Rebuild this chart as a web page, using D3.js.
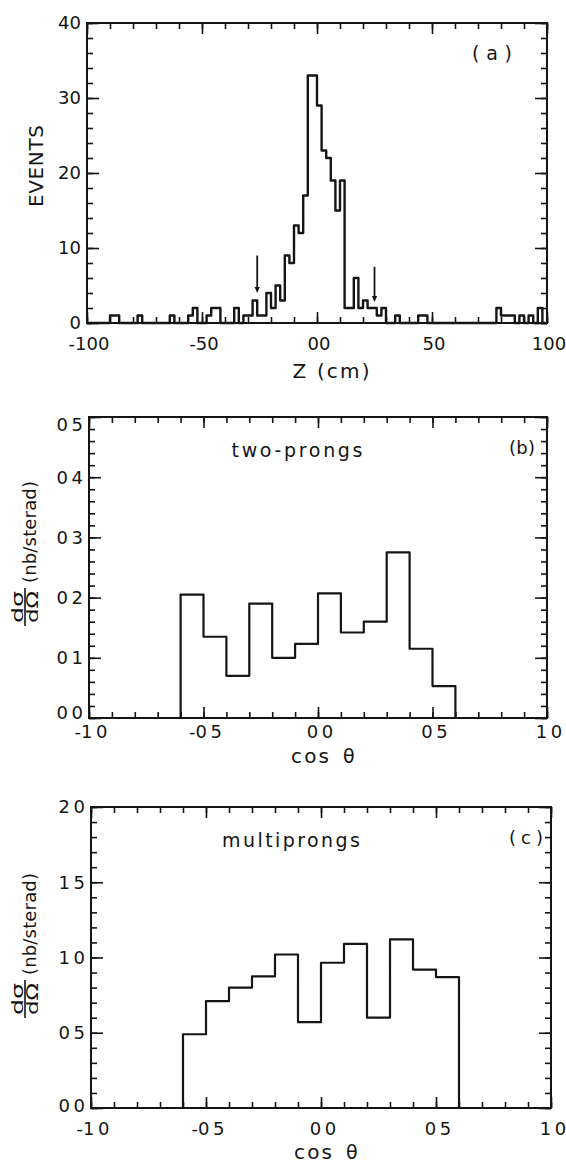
<!DOCTYPE html>
<html lang="en">
<head>
<meta charset="UTF-8">
<title>Z distribution and angular distributions</title>
<script src="https://d3js.org/d3.v7.min.js"></script>
<style>
  body { margin: 0; background: #fff; }
  svg { font-family: "DejaVu Sans", sans-serif; }
  text { fill: #151515; }
</style>
</head>
<body>
<svg id="chart" width="566" height="1163"></svg>
<script>
// (a) vertex Z distribution, 2 cm bins: lower bin edge -> events (empty bins left out)
var zBinLow = [-90, -88, -78, -64, -56, -54, -48, -46, -44,
               -36, -32, -30, -28, -26, -24, -22, -20, -18, -16,
               -14, -12, -10, -8, -6, -4, -2, 0, 2, 4,
               6, 8, 10, 12, 14, 16, 18, 20, 22, 24,
               26, 28, 34, 44, 46, 78, 80, 82, 84, 88,
               92, 96];
var zEvents = [1, 1, 1, 1, 1, 2, 1, 2, 2,
               2, 1, 1, 3, 1, 1, 4, 2, 5, 3,
               9, 8, 13, 12, 17, 33, 33, 29, 23, 22,
               19, 15, 19, 2, 2, 6, 2, 3, 2, 2,
               1, 2, 1, 1, 1, 2, 1, 1, 1, 1,
               1, 2];
var zCutZ = [-26, 25];        // arrows marking the Z cut
var zCutFrom = [9, 7.5];
var zCutTo = [4, 2.8];
var zTicks = [-100, -50, 0, 50, 100];
var zTickLabels = ["-100", "-50", "00", "50", "100"];
var eventTicks = [0, 10, 20, 30, 40];
var eventTickLabels = ["0", "10", "20", "30", "40"];

// (b), (c) angular distributions, bins of 0.1 in cos theta
var cosBinLow = [-0.6, -0.5, -0.4, -0.3, -0.2, -0.1, 0.0, 0.1, 0.2, 0.3, 0.4, 0.5];
var twoProngs = [0.205, 0.135, 0.07, 0.19, 0.10, 0.123, 0.207, 0.142, 0.16, 0.275, 0.115, 0.053];
var multiProngs = [0.49, 0.71, 0.80, 0.875, 1.02, 0.57, 0.965, 1.09, 0.60, 1.12, 0.92, 0.87];
var cosTicks = [-1, -0.5, 0, 0.5, 1];
var cosTickLabels = ["-1\u20090", "-0\u20095", "0\u20090", "0\u20095", "1\u20090"];
var twoTicks = [0, 0.1, 0.2, 0.3, 0.4, 0.5];
var twoTickLabels = ["0\u20090", "0\u20091", "0\u20092", "0\u20093", "0\u20094", "0\u20095"];
var multiTicks = [0, 0.5, 1, 1.5, 2];
var multiTickLabels = ["0\u20090", "0\u20095", "1\u20090", "1\u20095", "2\u20090"];

var ink = "#151515";
var svg = d3.select("#chart");

function drawFrame(o) {
  var g = svg.append("g");
  var x = d3.scaleLinear().domain(o.xDomain).range([o.left, o.right]);
  var y = d3.scaleLinear().domain(o.yDomain).range([o.bottom, o.top]);

  // inward ticks on all four sides
  [[o.xMinor, 6], [o.xMajor, 11]].forEach(function (t) {
    g.append("g").attr("transform", "translate(0," + o.bottom + ")")
      .call(d3.axisBottom(x).tickValues(t[0]).tickSize(-t[1]).tickFormat(""));
    g.append("g").attr("transform", "translate(0," + o.top + ")")
      .call(d3.axisTop(x).tickValues(t[0]).tickSize(-t[1]).tickFormat(""));
  });
  [[o.yMinor, 6], [o.yMajor, 12]].forEach(function (t) {
    g.append("g").attr("transform", "translate(" + o.left + ",0)")
      .call(d3.axisLeft(y).tickValues(t[0]).tickSize(-t[1]).tickFormat(""));
    g.append("g").attr("transform", "translate(" + o.right + ",0)")
      .call(d3.axisRight(y).tickValues(t[0]).tickSize(-t[1]).tickFormat(""));
  });
  g.selectAll(".domain").remove();
  g.selectAll(".tick line").attr("stroke", ink).attr("stroke-width", 1.6);

  g.append("rect")
    .attr("x", o.left).attr("y", o.top)
    .attr("width", o.right - o.left).attr("height", o.bottom - o.top)
    .attr("fill", "none").attr("stroke", ink).attr("stroke-width", 2);

  // tick labels
  g.selectAll(".xlab").data(o.xLabels).enter().append("text")
    .attr("x", function (d, i) { return x(o.xLabelAt[i]) + 2; })
    .attr("y", o.bottom + o.xLabelDrop)
    .attr("text-anchor", "middle")
    .style("font-size", "18px")
    .text(function (d) { return d; });
  g.selectAll(".ylab").data(o.yLabels).enter().append("text")
    .attr("x", o.left - 6)
    .attr("y", function (d, i) { return y(o.yLabelAt[i]) + (o.yNudge ? o.yNudge[i] : 0); })
    .attr("dy", "0.36em")
    .attr("text-anchor", "end")
    .style("font-size", "18px")
    .text(function (d) { return d; });

  return { g: g, x: x, y: y };
}

function stepPath(p, pts, width) {
  var line = d3.line()
    .x(function (d) { return p.x(d[0]); })
    .y(function (d) { return p.y(d[1]); })
    .curve(d3.curveStepAfter);
  p.g.append("path").datum(pts)
    .attr("d", line)
    .attr("fill", "none").attr("stroke", ink)
    .attr("stroke-width", width).attr("stroke-linejoin", "round");
}

// ---------- panel (a) ----------
var pa = drawFrame({
  left: 87, right: 547, top: 23, bottom: 323,
  xDomain: [-100, 100], yDomain: [0, 40],
  xMinor: d3.range(-100, 101, 10), xMajor: zTicks,
  yMinor: d3.range(0, 41, 2), yMajor: eventTicks,
  xLabels: zTickLabels, xLabelAt: zTicks, xLabelDrop: 27,
  yLabels: eventTickLabels, yLabelAt: eventTicks
});

var zLookup = {};
zBinLow.forEach(function (lo, i) { zLookup[lo] = zEvents[i]; });
var zPts = d3.range(-100, 100, 2).map(function (lo) { return [lo, zLookup[lo] || 0]; });
zPts.push([100, 0]);
stepPath(pa, zPts, 2.4);

zCutZ.forEach(function (z, i) {
  var xx = pa.x(z), y0 = pa.y(zCutFrom[i]), y1 = pa.y(zCutTo[i]);
  pa.g.append("line")
    .attr("x1", xx).attr("x2", xx).attr("y1", y0).attr("y2", y1 - 4)
    .attr("stroke", ink).attr("stroke-width", 1.8);
  pa.g.append("path")
    .attr("d", "M" + (xx - 2.6) + "," + (y1 - 6) + "L" + (xx + 2.6) + "," + (y1 - 6) + "L" + xx + "," + y1 + "Z")
    .attr("fill", ink);
});

svg.append("text").attr("x", 492).attr("y", 60).attr("text-anchor", "middle")
  .style("font-size", "19px").attr("textLength", 40).text("(a)");
svg.append("text").attr("x", 331).attr("y", 378).attr("text-anchor", "middle")
  .style("font-size", "20px").attr("textLength", 77).text("Z (cm)");
svg.append("text")
  .attr("transform", "translate(43,166) rotate(-90)")
  .attr("text-anchor", "middle")
  .style("font-size", "20px").attr("textLength", 82).text("EVENTS");

// ---------- panels (b) and (c) ----------
function cosPanel(o, values) {
  var p = drawFrame(o);
  var pts = [[cosBinLow[0], 0]];
  cosBinLow.forEach(function (lo, i) { pts.push([lo, values[i]]); });
  pts.push([0.6, 0]);
  stepPath(p, pts, 2.2);

  // x title: cos theta
  svg.append("text").attr("x", p.x(0) - 27).attr("y", o.bottom + o.titleDrop)
    .style("font-size", "20px").attr("textLength", 38).text("cos");
  svg.append("text").attr("x", p.x(0) + 25).attr("y", o.bottom + o.titleDrop)
    .style("font-size", "19px").text("\u03b8");

  // y title: dsigma/dOmega (nb/sterad), rotated
  var t = svg.append("g")
    .attr("transform", "translate(25," + o.yTitleBase + ") rotate(-90)");
  t.append("line").attr("x1", 2).attr("x2", 40).attr("y1", 0).attr("y2", 0)
    .attr("stroke", ink).attr("stroke-width", 1.6);
  t.append("text").attr("x", 5).attr("y", -2.5)
    .style("font-size", "16px")
    .attr("textLength", 32).attr("lengthAdjust", "spacingAndGlyphs").text("d\u03c3");
  t.append("text").attr("x", 5).attr("y", 13)
    .style("font-size", "16px")
    .attr("textLength", 32).attr("lengthAdjust", "spacingAndGlyphs").text("d\u03a9");
  t.append("text").attr("x", 45).attr("y", 11)
    .style("font-size", "18px").attr("textLength", 102).text("(nb/sterad)");

  svg.append("text").attr("x", o.nameX).attr("y", o.top + 40).attr("text-anchor", "middle")
    .style("font-size", "19px").attr("textLength", o.nameLen).text(o.name);
  svg.append("text").attr("x", o.tagX).attr("y", o.top + 37).attr("text-anchor", "middle")
    .style("font-size", "18px").attr("textLength", o.tagLen).text(o.tag);
  return p;
}

cosPanel({
  left: 89, right: 547, top: 417, bottom: 718,
  xDomain: [-1, 1], yDomain: [0, 0.5],
  xMinor: d3.range(-10, 11, 1).map(function (v) { return v / 10; }), xMajor: cosTicks,
  yMinor: d3.range(0, 26, 1).map(function (v) { return v / 50; }), yMajor: twoTicks,
  xLabels: cosTickLabels, xLabelAt: cosTicks, xLabelDrop: 20,
  yLabels: twoTickLabels, yLabelAt: twoTicks, yNudge: [-5, 0, 0, 0, 0, 8],
  titleDrop: 45, yTitleBase: 628,
  name: "two-prongs", nameX: 297, nameLen: 131,
  tag: "(b)", tagX: 522, tagLen: 26
}, twoProngs);

cosPanel({
  left: 91, right: 551, top: 807, bottom: 1108,
  xDomain: [-1, 1], yDomain: [0, 2],
  xMinor: d3.range(-10, 11, 1).map(function (v) { return v / 10; }), xMajor: cosTicks,
  yMinor: d3.range(0, 21, 1).map(function (v) { return v / 10; }), yMajor: multiTicks,
  xLabels: cosTickLabels, xLabelAt: cosTicks, xLabelDrop: 27,
  yLabels: multiTickLabels, yLabelAt: multiTicks, yNudge: [-2, 0, 0, 0, 0],
  titleDrop: 51, yTitleBase: 1020,
  name: "multiprongs", nameX: 291, nameLen: 138,
  tag: "(c)", tagX: 526, tagLen: 34
}, multiProngs);
</script>
</body>
</html>
